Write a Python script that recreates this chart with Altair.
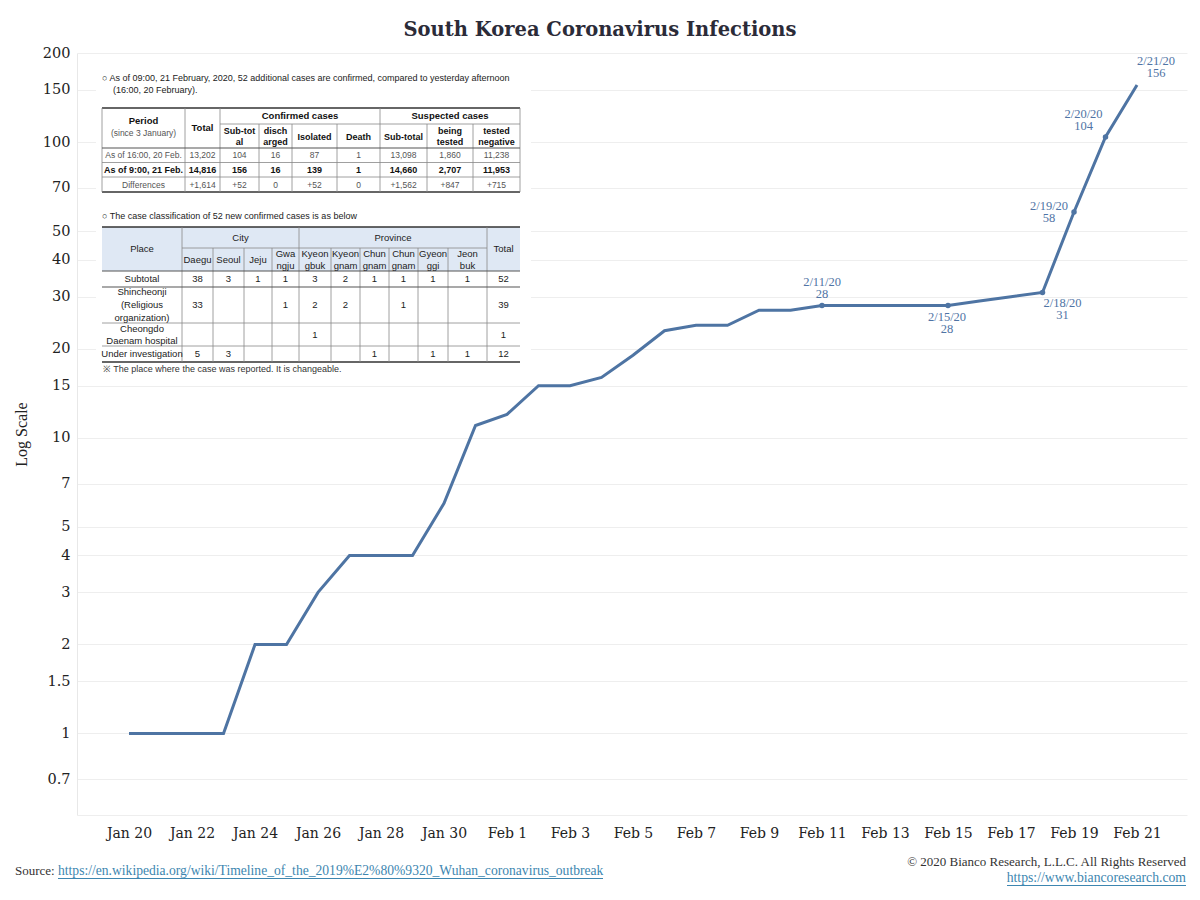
import altair as alt
import pandas as pd

# ---------------- data ----------------
dates = [
    "2020-01-20", "2020-01-21", "2020-01-22", "2020-01-23", "2020-01-24", "2020-01-25",
    "2020-01-26", "2020-01-27", "2020-01-28", "2020-01-29", "2020-01-30", "2020-01-31",
    "2020-02-01", "2020-02-02", "2020-02-03", "2020-02-04", "2020-02-05", "2020-02-06",
    "2020-02-07", "2020-02-08", "2020-02-09", "2020-02-10", "2020-02-11", "2020-02-12",
    "2020-02-13", "2020-02-14", "2020-02-15", "2020-02-16", "2020-02-17", "2020-02-18",
    "2020-02-19", "2020-02-20", "2020-02-21",
]
cases = [1, 1, 1, 1, 2, 2, 3, 4, 4, 4, 6, 11,
         12, 15, 15, 16, 19, 23, 24, 24, 27, 27, 28, 28, 28, 28, 28, 29, 30, 31, 58, 104, 156]

annot_dates = ["2020-02-11", "2020-02-15", "2020-02-18", "2020-02-19", "2020-02-20", "2020-02-21"]
annot_labels = ["2/11/20", "2/15/20", "2/18/20", "2/19/20", "2/20/20", "2/21/20"]
dot_dates = ["2020-02-11", "2020-02-15", "2020-02-18", "2020-02-19", "2020-02-20"]

y_ticks = [0.7, 1, 1.5, 2, 3, 4, 5, 7, 10, 15, 20, 30, 40, 50, 70, 100, 150, 200]
x_tick_days = list(range(0, 33, 2))

title_text = "South Korea Coronavirus Infections"
y_title = "Log Scale"
source_label = "Source:"
source_url = "https://en.wikipedia.org/wiki/Timeline_of_the_2019%E2%80%9320_Wuhan_coronavirus_outbreak"
copyright_text = "\u00a9 2020 Bianco Research, L.L.C. All Rights Reserved"
site_url = "https://www.biancoresearch.com"

# inset table 1 (KCDC report)
t1_note = ["\u25cb  As of 09:00, 21 February, 2020, 52 additional cases are confirmed, compared to yesterday afternoon",
           "(16:00, 20 February)."]
t1_groups = ["Confirmed cases", "Suspected cases"]
t1_sub = [["Sub-tot", "al"], ["disch", "arged"], ["Isolated"], ["Death"], ["Sub-total"],
          ["being", "tested"], ["tested", "negative"]]
t1_row_labels = ["As of 16:00, 20 Feb.", "As of 9:00, 21 Feb.", "Differences"]
t1_values = [
    ["13,202", "104", "16", "87", "1", "13,098", "1,860", "11,238"],
    ["14,816", "156", "16", "139", "1", "14,660", "2,707", "11,953"],
    ["+1,614", "+52", "0", "+52", "0", "+1,562", "+847", "+715"],
]

# inset table 2
t2_note = "\u25cb  The case classification of 52 new confirmed cases is as below"
t2_groups = ["City", "Province"]
t2_sub = [["Daegu"], ["Seoul"], ["Jeju"], ["Gwa", "ngju"], ["Kyeon", "gbuk"], ["Kyeon", "gnam"],
          ["Chun", "gnam"], ["Chun", "gnam"], ["Gyeon", "ggi"], ["Jeon", "buk"]]
t2_row_labels = [["Subtotal"], ["Shincheonji", "(Religious", "organization)"],
                 ["Cheongdo", "Daenam hospital"], ["Under investigation"]]
t2_values = [
    ["38", "3", "1", "1", "3", "2", "1", "1", "1", "1", "52"],
    ["33", "", "", "1", "2", "2", "", "1", "", "", "39"],
    ["", "", "", "", "1", "", "", "", "", "", "1"],
    ["5", "3", "", "", "", "", "1", "", "1", "1", "12"],
]
t2_footnote = "\u203b The place where the case was reported. It is changeable."

# ---------------- layout / style ----------------
W, H = 1110, 762
OX, OY = 77, 53          # page position of plot origin
LINE_C = "#4e74a3"
LBL_C = "#4f74a5"
LINK_C = "#3d86b0"
SERIF = "DejaVu Serif"
SERIF2 = "Liberation Serif"
SANS = "Liberation Sans"
NARROW = "'Liberation Sans Narrow', 'Liberation Sans', sans-serif"

base_day = pd.Timestamp("2020-01-20")
df = pd.DataFrame({"date": pd.to_datetime(dates), "cases": cases})
df["day"] = (df["date"] - base_day).dt.days

xscale = alt.Scale(domain=[-1.651, 33.587], nice=False, zero=False)
yscale = alt.Scale(type="log", domain=[0.53, 200], nice=False)

xenc = alt.X("day:Q", scale=xscale, axis=alt.Axis(
    values=x_tick_days, grid=False, ticks=False, domain=True, domainColor="#eeeeee",
    labelExpr="timeFormat(datetime(2020, 0, 20 + datum.value), '%b %-d')",
    labelFont=SERIF, labelFontSize=14, labelColor="#222222", labelPadding=11, title=None))
yenc = alt.Y("cases:Q", scale=yscale, axis=alt.Axis(
    values=y_ticks, format="~g", grid=True, gridColor="#eeeeee", ticks=False,
    domain=True, domainColor="#e8e8e8", labelFont=SERIF, labelFontSize=14.5,
    labelColor="#222222", labelPadding=7, title=y_title, titleFont=SERIF2,
    titleFontSize=16, titleFontWeight="normal", titleColor="#222222", titlePadding=13))

line = alt.Chart(df).mark_line(color=LINE_C, strokeWidth=3).encode(x=xenc, y=yenc)
dots = alt.Chart(df[df["date"].isin(pd.to_datetime(dot_dates))]).mark_circle(
    color=LINE_C, size=30, opacity=1).encode(x="day:Q", y="cases:Q")

# annotation label offsets (dx, dy of the first line; second line follows)
offsets = {"2020-02-11": (0, -24), "2020-02-15": (-1, 11), "2020-02-18": (20, 11),
           "2020-02-19": (-25, -6), "2020-02-20": (-22, -23), "2020-02-21": (19, -24)}
annot_layers = []
for d, lab in zip(annot_dates, annot_labels):
    sub = df[df["date"] == pd.Timestamp(d)].copy()
    sub["lab"] = lab + "\n" + sub["cases"].astype(str)
    dx, dy = offsets[d]
    annot_layers.append(alt.Chart(sub).mark_text(
        font=SERIF2, fontSize=12.5, color=LBL_C, dx=dx, dy=dy, baseline="middle",
        align="center", lineBreak="\n", lineHeight=12).encode(
        x="day:Q", y="cases:Q", text="lab:N"))

main = alt.layer(line, dots, *annot_layers)

# ---------------- overlay helpers (pixel positioned decorations) ----------------
def P(x, y):
    return x - OX, y - OY

texts = {}

def add_text(style, x, y, t):
    if t == "":
        return
    px, py = P(x, y)
    texts.setdefault(style, []).append({"x": px, "y": py, "t": t})

rules = {}

def add_rule(style, x1, y1, x2, y2):
    a, b = P(x1, y1)
    c, d = P(x2, y2)
    rules.setdefault(style, []).append({"x": a, "y": b, "x2": c, "y2": d})

rects = []

def add_rect(color, x1, y1, x2, y2):
    a, b = P(x1, y1)
    c, d = P(x2, y2)
    rects.append({"x": a, "y": b, "x2": c, "y2": d, "c": color})

# title & footer
add_text(("title",), 600, 30, title_text)
add_text(("src",), 15, 871, source_label)
add_text(("link_l",), 58, 871, source_url)
add_text(("copy",), 1186, 862, copyright_text)
add_text(("link_r",), 1186, 878, site_url)
add_rule(("link",), 58, 878.5, 603, 878.5)
add_rule(("link",), 1007, 885.5, 1186, 885.5)

# inset background
add_rect("#ffffff", 96, 64, 531, 379)

# ---- table 1 ----
add_text(("note",), 102, 78, t1_note[0])
add_text(("note",), 113, 90, t1_note[1])
c1 = [102, 185, 220, 259, 292, 337, 380, 427, 473, 520]
m1 = [(c1[i] + c1[i + 1]) / 2 for i in range(len(c1) - 1)]
r1 = [108, 124, 148, 162.5, 177, 192]
add_text(("t1b",), m1[0], 121, "Period")
add_text(("t1g",), m1[0], 133, "(since 3 January)")
add_text(("t1b",), m1[1], 128, "Total")
add_text(("t1b",), (c1[2] + c1[6]) / 2, 116, t1_groups[0])
add_text(("t1b",), (c1[6] + c1[9]) / 2, 116, t1_groups[1])
for i, parts in enumerate(t1_sub):
    cx = m1[i + 2]
    if len(parts) == 1:
        add_text(("t1s",), cx, 136.5, parts[0])
    else:
        add_text(("t1s",), cx, 130.5, parts[0])
        add_text(("t1s",), cx, 142, parts[1])
for ri, (lab, vals) in enumerate(zip(t1_row_labels, t1_values)):
    cy = (r1[ri + 2] + r1[ri + 3]) / 2
    style = ("t1bold",) if ri == 1 else ("t1g",)
    add_text(style, m1[0], cy, lab)
    for ci, v in enumerate(vals):
        add_text(style, m1[ci + 1], cy, v)
# table 1 lines
add_rule(("thick",), c1[0], r1[0], c1[-1], r1[0])
add_rule(("thin",), c1[2], r1[1], c1[-1], r1[1])
add_rule(("mid",), c1[0], r1[2], c1[-1], r1[2])
add_rule(("thin",), c1[0], r1[3], c1[-1], r1[3])
add_rule(("thin",), c1[0], r1[4], c1[-1], r1[4])
add_rule(("thick",), c1[0], r1[5], c1[-1], r1[5])
for x in (c1[0], c1[1], c1[2], c1[6], c1[9]):
    add_rule(("thin",), x, r1[0], x, r1[5])
for x in (c1[3], c1[4], c1[5], c1[7], c1[8]):
    add_rule(("thin",), x, r1[1], x, r1[5])

# ---- table 2 ----
add_text(("note",), 102, 216, t2_note)
c2 = [102, 182, 213, 244, 272, 299, 331, 360, 389, 418, 448, 487, 520]
m2 = [(c2[i] + c2[i + 1]) / 2 for i in range(len(c2) - 1)]
r2 = [227, 248, 271, 287, 323, 346, 362]
add_rect("#dfe8f4", c2[0], r2[0], c2[-1], r2[2])
add_text(("t2",), m2[0], 249, "Place")
add_text(("t2",), (c2[1] + c2[5]) / 2, 237.5, t2_groups[0])
add_text(("t2",), (c2[5] + c2[11]) / 2, 237.5, t2_groups[1])
add_text(("t2",), m2[-1], 249, "Total")
for i, parts in enumerate(t2_sub):
    cx = m2[i + 1]
    if len(parts) == 1:
        add_text(("t2",), cx, 260, parts[0])
    else:
        add_text(("t2",), cx, 254, parts[0])
        add_text(("t2",), cx, 266, parts[1])
label_lines_y = [[279], [292, 305, 318], [329, 341], [354]]
value_y = [279, 305, 335, 354]
for ri, (labs, vals) in enumerate(zip(t2_row_labels, t2_values)):
    for lab, ly in zip(labs, label_lines_y[ri]):
        add_text(("t2",), m2[0], ly, lab)
    for ci, v in enumerate(vals):
        add_text(("t2",), m2[ci + 1], value_y[ri], v)
add_text(("foot",), 103, 369, t2_footnote)
# table 2 lines
add_rule(("thick",), c2[0], r2[0], c2[-1], r2[0])
add_rule(("thin",), c2[1], r2[1], c2[11], r2[1])
add_rule(("mid",), c2[0], r2[2], c2[-1], r2[2])
add_rule(("mid",), c2[0], r2[3], c2[-1], r2[3])
add_rule(("thin",), c2[0], r2[4], c2[-1], r2[4])
add_rule(("thin",), c2[0], r2[5], c2[-1], r2[5])
add_rule(("thick",), c2[0], r2[6], c2[-1], r2[6])
for x in (c2[1], c2[5], c2[11]):
    add_rule(("thin",), x, r2[0], x, r2[6])
for x in (c2[2], c2[3], c2[4], c2[6], c2[7], c2[8], c2[9], c2[10]):
    add_rule(("thin",), x, r2[1], x, r2[6])

text_styles = {
    ("title",): dict(font=SERIF, fontSize=19.5, fontWeight="bold", color="#2b2b38", align="center"),
    ("src",): dict(font=SERIF2, fontSize=13, color="#333333", align="left"),
    ("link_l",): dict(font=SERIF2, fontSize=13.6, color=LINK_C, align="left"),
    ("copy",): dict(font=SERIF2, fontSize=13, color="#333333", align="right"),
    ("link_r",): dict(font=SERIF2, fontSize=13.7, color=LINK_C, align="right"),
    ("note",): dict(font=SANS, fontSize=9, color="#222222", align="left"),
    ("t1b",): dict(font=SANS, fontSize=9.5, fontWeight="bold", color="#111111", align="center"),
    ("t1s",): dict(font=SANS, fontSize=9, fontWeight="bold", color="#111111", align="center"),
    ("t1g",): dict(font=SANS, fontSize=8.5, color="#555555", align="center"),
    ("t1bold",): dict(font=SANS, fontSize=9, fontWeight="bold", color="#111111", align="center"),
    ("t2",): dict(font=NARROW, fontSize=9.5, color="#222222", align="center"),
    ("foot",): dict(font=NARROW, fontSize=9, color="#333333", align="left"),
}
rule_styles = {
    ("thick",): dict(color="#333333", strokeWidth=1.6),
    ("mid",): dict(color="#555555", strokeWidth=1.2),
    ("thin",): dict(color="#888888", strokeWidth=0.8),
    ("link",): dict(color=LINK_C, strokeWidth=1),
}

PX = alt.X("x:Q", scale=None, axis=None)
PY = alt.Y("y:Q", scale=None, axis=None)

overlay = []
rect_df = pd.DataFrame(rects)
overlay.append(alt.Chart(rect_df).mark_rect().encode(
    x=PX, y=PY, x2="x2:Q", y2="y2:Q", color=alt.Color("c:N", scale=None)))
for st, rows in rules.items():
    overlay.append(alt.Chart(pd.DataFrame(rows)).mark_rule(**rule_styles[st]).encode(
        x=PX, y=PY, x2="x2:Q", y2="y2:Q"))
for st, rows in texts.items():
    overlay.append(alt.Chart(pd.DataFrame(rows)).mark_text(baseline="middle", **text_styles[st]).encode(
        x=PX, y=PY, text="t:N"))

chart = alt.layer(main, *overlay).resolve_scale(x="independent", y="independent").properties(
    width=W, height=H,
    autosize=alt.AutoSizeParams(type="none"),
    padding={"left": 69, "top": 45, "right": 4, "bottom": 72},
    background="white",
).configure_view(stroke=None)

chart.save("out.html", embed_options={"renderer": "svg", "actions": False})
